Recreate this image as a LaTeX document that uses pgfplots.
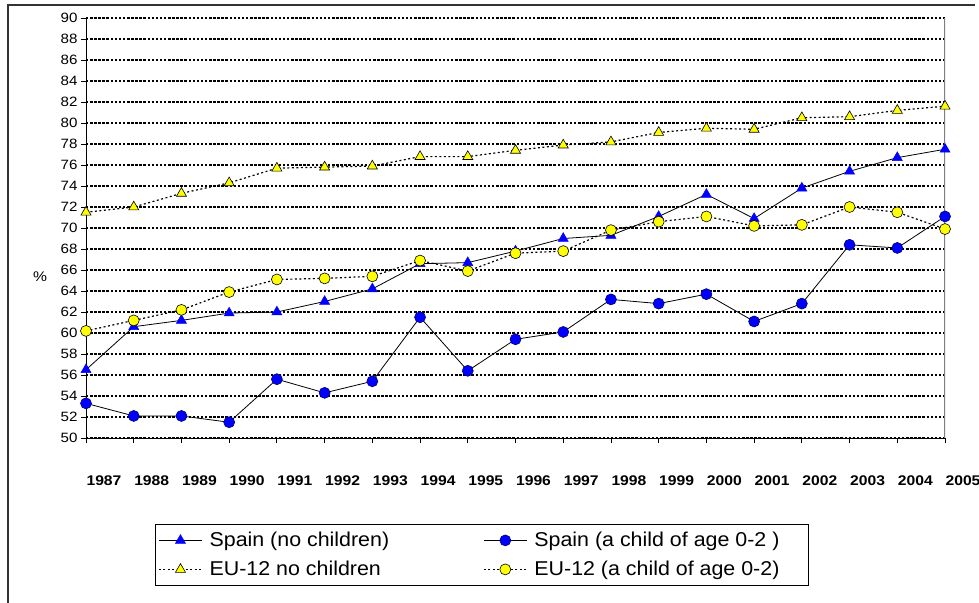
\documentclass[border=0pt]{standalone}
\usepackage{fontspec}
\setmainfont{Liberation Sans}[FakeStretch=1.12]
\newfontfamily\legfont{Liberation Sans}[FakeStretch=1.07]
\usepackage{pgfplots}
\pgfplotsset{compat=1.18}
\definecolor{myblue}{RGB}{0,0,255}
\definecolor{myyellow}{RGB}{255,255,0}
\definecolor{navyedge}{RGB}{0,0,110}
\begin{document}
\begin{tikzpicture}
\useasboundingbox (-86pt,-164pt) rectangle (893pt,438pt);
\draw[color=black!80, line width=1.3pt] (-78pt,-170pt) -- (-78pt,433pt) -- (889pt,433pt);
\begin{axis}[
  scale only axis, width=859pt, height=420pt,
  xmin=0, xmax=18, ymin=50, ymax=90,
  axis x line*=bottom, axis y line*=left,
  axis line style={black, line width=0.9pt},
  xtick={0,...,18},
  xticklabels={1987,1988,1989,1990,1991,1992,1993,1994,1995,1996,1997,1998,1999,2000,2001,2002,2003,2004,2005},
  ytick={50,52,...,90},
  tick align=outside, major tick length=5pt,
  tick style={black, line width=0.8pt},
  ymajorgrids,
  grid style={black, line width=1.1pt, dash pattern=on 2.5pt off 1.6pt},
  /pgf/number format/assume math mode=true,
  yticklabel style={font=\fontsize{13.5}{15}\selectfont},
  xticklabel style={font=\fontsize{14}{16}\selectfont\bfseries, anchor=north, xshift=18pt, yshift=-29pt},
  ylabel={\%},
  every axis y label/.style={at={(axis description cs:-0.0535,0.383)}, anchor=center, font=\fontsize{14}{16}\selectfont},
  legend columns=2,
  legend cell align=left,
  legend style={at={(0.0803,-0.2048)}, anchor=north west, draw=black, line width=0.8pt,
    font=\legfont\fontsize{20}{22}\selectfont, inner xsep=3pt, inner ysep=6pt, row sep=9pt,
    /tikz/every odd column/.append style={column sep=5pt},
    /tikz/every even column/.append style={column sep=92pt}},
  legend image code/.code={\draw[mark repeat=2, mark phase=2, #1] plot coordinates {(0pt,0pt) (21.5pt,0pt) (43pt,0pt)};},
]
\draw[gray, line width=1.5pt] (rel axis cs:1,0) -- (rel axis cs:1,1);
\addplot[black, line width=0.8pt, mark=triangle*, mark size=5.8pt,
  mark options={solid, fill=myblue, draw=myblue, line width=0.5pt}]
  coordinates {(0,56.5) (1,60.6) (2,61.2) (3,61.9) (4,62.0) (5,63.0) (6,64.2) (7,66.6) (8,66.7) (9,67.8) (10,69.0) (11,69.3) (12,71.1) (13,73.2) (14,70.9) (15,73.8) (16,75.4) (17,76.7) (18,77.5)};
\addlegendentry{Spain (no children)}
\addplot[black, line width=0.8pt, mark=*, mark size=5.5pt,
  mark options={solid, fill=myblue, draw=navyedge, line width=0.6pt}]
  coordinates {(0,53.3) (1,52.1) (2,52.1) (3,51.5) (4,55.6) (5,54.3) (6,55.4) (7,61.5) (8,56.4) (9,59.4) (10,60.1) (11,63.2) (12,62.8) (13,63.7) (14,61.1) (15,62.8) (16,68.4) (17,68.1) (18,71.1)};
\addlegendentry{Spain (a child of age 0-2 )\hspace*{24pt}}
\addplot[black, line width=1.2pt, dash pattern=on 2pt off 2.5pt, mark=triangle*, mark size=5.8pt,
  mark options={solid, fill=myyellow, draw=black, line width=0.6pt}]
  coordinates {(0,71.5) (1,72.0) (2,73.3) (3,74.3) (4,75.7) (5,75.8) (6,75.9) (7,76.8) (8,76.8) (9,77.4) (10,77.9) (11,78.2) (12,79.1) (13,79.5) (14,79.4) (15,80.5) (16,80.6) (17,81.2) (18,81.6)};
\addlegendentry{EU-12 no children}
\addplot[black, line width=1.2pt, dash pattern=on 2pt off 2.5pt, mark=*, mark size=5.5pt,
  mark options={solid, fill=myyellow, draw=black, line width=0.6pt}]
  coordinates {(0,60.2) (1,61.2) (2,62.2) (3,63.9) (4,65.1) (5,65.2) (6,65.4) (7,66.9) (8,65.9) (9,67.6) (10,67.8) (11,69.8) (12,70.6) (13,71.1) (14,70.2) (15,70.3) (16,72.0) (17,71.5) (18,69.9)};
\addlegendentry{EU-12 (a child of age 0-2)}
\end{axis}
\end{tikzpicture}
\end{document}
